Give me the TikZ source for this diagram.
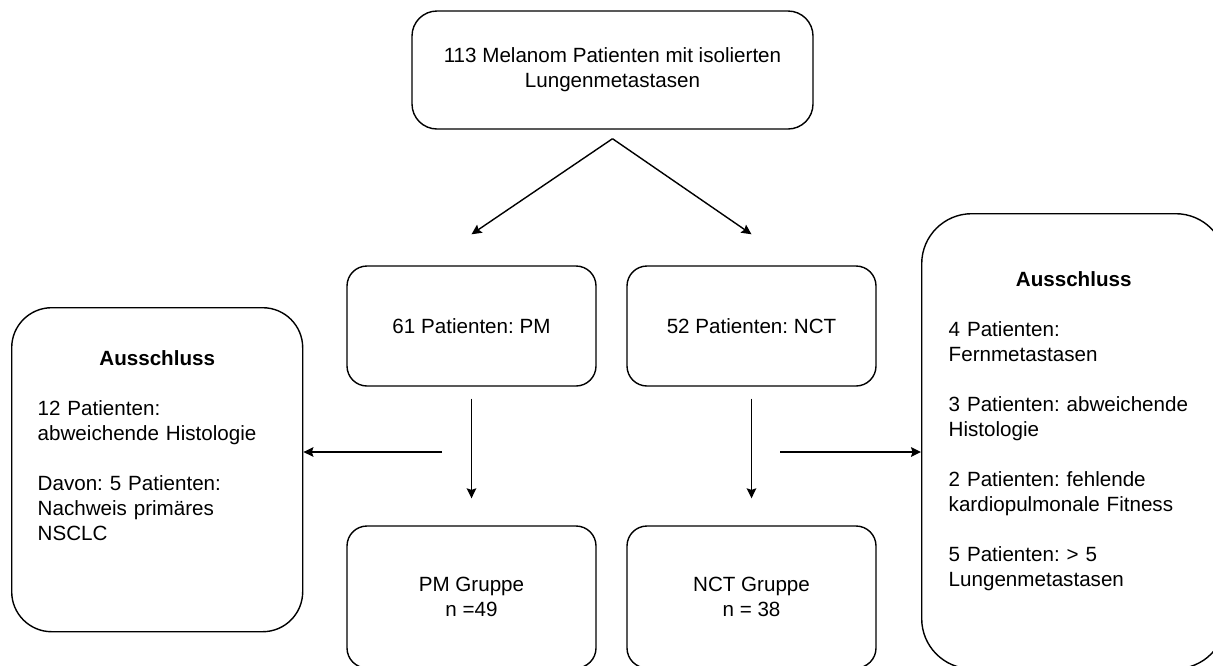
\documentclass[tikz,border=0pt]{standalone}
\usepackage{fontspec}
\setmainfont{Liberation Sans}
\usepackage{tikz}
\usetikzlibrary{arrows.meta,calc}
\frenchspacing
\definecolor{linie}{HTML}{000000}
\tikzset{
  pfeil/.style={-{Stealth[length=5pt,width=4.8pt,inset=0.8pt]},linie,line width=0.7pt},
  kasten/.style={draw=linie,line width=0.7pt,align=center,inner sep=0pt,rounded corners=10pt,minimum width=124.5pt},
  auskasten/.style={draw=linie,line width=0.7pt,align=left,anchor=north west,inner ysep=0pt,inner xsep=13pt},
}

\begin{document}
\begin{tikzpicture}[x=0.5pt,y=-0.5pt,font=\fontsize{10.3}{12.5}\selectfont]
  \useasboundingbox (0,0) rectangle (1213,665);
  \clip (0,0) rectangle (1213,665);
  % Ausgangskollektiv
  \node[kasten,rounded corners=12.5pt,minimum width=200.5pt,minimum height=59pt] (gesamt) at (612.5,70)
    {113 Melanom Patienten mit isolierten\\Lungenmetastasen};
  \node[kasten,minimum height=60pt] (pm) at (471.5,326) {61 Patienten: PM};
  \node[kasten,minimum height=60pt] (nct) at (751.5,326) {52 Patienten: NCT};
  \node[kasten,minimum height=71pt] (pmgr) at (471.5,597) {PM Gruppe\\n =49};
  \node[kasten,minimum height=71pt] (nctgr) at (751.5,597) {NCT Gruppe\\n = 38};
  % Ausschluesse
  \node[auskasten,rounded corners=20pt,text width=119.5pt,text height=29pt,text depth=133pt] (auslinks) at (11,307)
    {\makebox[\linewidth]{\bfseries Ausschluss}\\[12.5pt]
     12 Patienten:\\abweichende Histologie\\[12.5pt]
     Davon: 5 Patienten:\\Nachweis primäres\\NSCLC};
  \node[auskasten,inner xsep=13.5pt,rounded corners=25pt,text width=125pt,text height=36.5pt,text depth=191pt] (ausrechts) at (921,213)
    {\makebox[\linewidth]{\bfseries Ausschluss}\\[12.5pt]
     4 Patienten:\\Fernmetastasen\\[12.5pt]
     3 Patienten: abweichende\\Histologie\\[12.5pt]
     2 Patienten: fehlende\\kardiopulmonale Fitness\\[12.5pt]
     5 Patienten: > 5\\Lungenmetastasen};
  \coordinate (linksab) at (442,452);
  \coordinate (rechtsab) at (780,452);
  % Pfeile
  \draw[pfeil] ([yshift=-4.5pt]gesamt.south) -- ([yshift=15.5pt]pm.north);
  \draw[pfeil] ([yshift=-4.5pt]gesamt.south) -- ([yshift=15.5pt]nct.north);
  \draw[pfeil] ([yshift=-6pt]pm.south) -- ([yshift=13.5pt]pmgr.north);
  \draw[pfeil] ([yshift=-6pt]nct.south) -- ([yshift=13.5pt]nctgr.north);
  \draw[pfeil] (linksab) -- (auslinks.east |- linksab);
  \draw[pfeil] (rechtsab) -- (ausrechts.west |- rechtsab);
\end{tikzpicture}
\end{document}
